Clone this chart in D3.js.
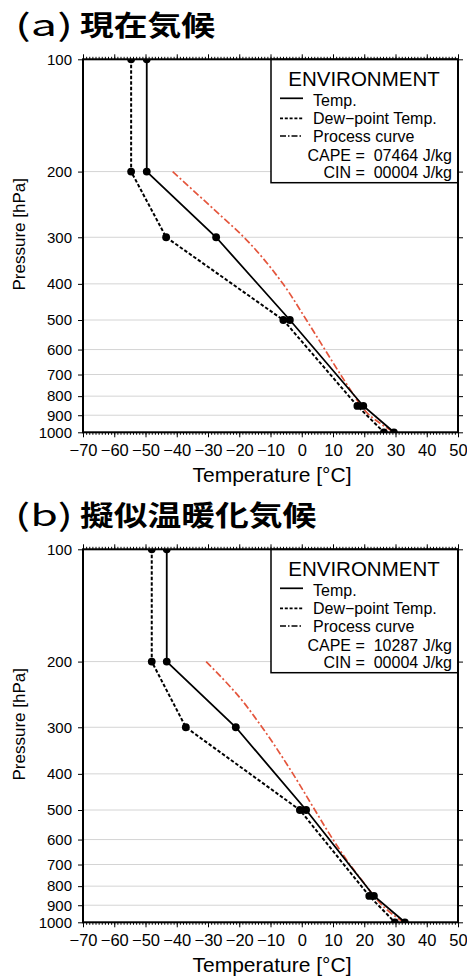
<!DOCTYPE html>
<html>
<head>
<meta charset="utf-8">
<script src="https://cdn.jsdelivr.net/npm/d3@7"></script>
<style>
  html, body { margin: 0; padding: 0; background: #fff; }
  svg { display: block; }
  text { font-family: "Liberation Sans", Arial, Helvetica, sans-serif; fill: #000; }
</style>
</head>
<body>
<svg id="chart" width="467" height="980"></svg>
<script>
// ---------------- data ----------------
const panelLetters = ["(a)", "(b)"];
const panelNames = ["現在気候", "擬似温暖化気候"];
const capeValues = ["07464", "10287"];
const cinValues = ["00004", "00004"];

const envPressure = [100, 200, 300, 500, 850, 1000];          // hPa
const tempA = [-49.6, -49.6, -27.4, -3.8, 19.7, 29.5];         // °C
const dewA  = [-54.6, -54.6, -43.4, -5.9, 17.8, 26.3];
const tempB = [-43.2, -43.2, -21.1, 1.4, 23.1, 33.0];
const dewB  = [-48.0, -48.0, -37.1, -0.6, 21.6, 29.8];

const procPressure = [200, 250, 300, 400, 500, 600, 700, 800, 850, 900, 950, 1000];
const procA = [-41.3, -28.7, -18.5, -6.0, 1.5, 7.4, 12.4, 16.9, 19.0, 21.7, 25.4, 29.5];
const procB = [-30.6, -19.8, -12.7, -2.8, 4.2, 10.0, 15.4, 20.7, 23.1, 25.7, 28.9, 32.7];

const xTickValues = [-70, -60, -50, -40, -30, -20, -10, 0, 10, 20, 30, 40, 50];
const pTickValues = [100, 200, 300, 400, 500, 600, 700, 800, 900, 1000];
const gridPressure = [200, 300, 400, 500, 600, 700, 800, 900];

const panels = [
  { temp: tempA, dew: dewA, proc: procA },
  { temp: tempB, dew: dewB, proc: procB }
];

// ---------------- layout ----------------
const svg = d3.select("#chart");
const left = 83, right = 458;
const plotH = 373;
const panelTop0 = 59.3, panelStep = 490;
const redColor = "#e4553c";

const x = d3.scaleLinear().domain([-70, 50]).range([left, right]);

panels.forEach((pd, i) => {
  const top = panelTop0 + i * panelStep;
  const bottom = top + plotH;
  const y = d3.scaleLog().domain([100, 1000]).range([top, bottom]);
  const g = svg.append("g");

  // title
  const tBase = 36 + i * panelStep;
  g.append("text").attr("x", 15).attr("y", tBase)
    .attr("textLength", 58).attr("lengthAdjust", "spacingAndGlyphs")
    .style("font-family", "'Noto Sans CJK JP', sans-serif")
    .style("font-weight", 400).style("font-size", "30px")
    .text(panelLetters[i]);
  g.append("text").attr("x", 80).attr("y", tBase)
    .attr("textLength", 135 * panelNames[i].length / 4).attr("lengthAdjust", "spacingAndGlyphs")
    .style("font-family", "'Noto Sans CJK JP', sans-serif")
    .style("font-weight", 700).style("font-size", "28px")
    .text(panelNames[i]);

  // clip
  const clipId = "clip" + i;
  svg.append("clipPath").attr("id", clipId)
    .append("rect").attr("x", left).attr("y", top).attr("width", right - left).attr("height", plotH);

  // grid
  g.append("g").selectAll("line").data(gridPressure).join("line")
    .attr("x1", left).attr("x2", right)
    .attr("y1", d => y(d)).attr("y2", d => y(d))
    .attr("stroke", "#d4d4d4").attr("stroke-width", 1);

  const plot = g.append("g").attr("clip-path", `url(#${clipId})`);

  const envLine = d3.line().x(d => x(d[0])).y(d => y(d[1]));
  const tempPts = pd.temp.map((t, k) => [t, envPressure[k]]);
  const dewPts = pd.dew.map((t, k) => [t, envPressure[k]]);
  const procPts = pd.proc.map((t, k) => [t, procPressure[k]]);

  plot.append("path").datum(procPts)
    .attr("d", d3.line().x(d => x(d[0])).y(d => y(d[1])).curve(d3.curveMonotoneY))
    .attr("fill", "none").attr("stroke", redColor).attr("stroke-width", 1.7)
    .attr("stroke-dasharray", "7,2.5,2,2.5");

  plot.append("path").datum(dewPts).attr("d", envLine)
    .attr("fill", "none").attr("stroke", "#000").attr("stroke-width", 2)
    .attr("stroke-dasharray", "3.5,2");

  plot.append("path").datum(tempPts).attr("d", envLine)
    .attr("fill", "none").attr("stroke", "#000").attr("stroke-width", 1.8);

  plot.append("g").selectAll("circle").data(dewPts.concat(tempPts)).join("circle")
    .attr("cx", d => x(d[0])).attr("cy", d => y(d[1])).attr("r", 3.9)
    .attr("fill", "#000");

  // legend
  const lg = g.append("g");
  lg.append("rect").attr("x", 271).attr("y", top).attr("width", right - 271).attr("height", 123.4)
    .attr("fill", "#fff").attr("stroke", "#000").attr("stroke-width", 1.5);
  lg.append("text").attr("x", 364).attr("y", top + 26.7).attr("text-anchor", "middle")
    .style("font-size", "20.5px").text("ENVIRONMENT");
  const rows = [
    { dash: null, label: "Temp.", ly: 39, ty: 46.4 },
    { dash: "3,1.8", label: "Dew\u2212point Temp.", ly: 59, ty: 64.7 },
    { dash: "6,2,1.5,2", label: "Process curve", ly: 76.7, ty: 82.4 }
  ];
  rows.forEach(r => {
    lg.append("line").attr("x1", 280).attr("x2", 303)
      .attr("y1", top + r.ly).attr("y2", top + r.ly)
      .attr("stroke", "#000").attr("stroke-width", 1.7)
      .attr("stroke-dasharray", r.dash);
    lg.append("text").attr("x", 313).attr("y", top + r.ty)
      .style("font-size", "16px").text(r.label);
  });
  lg.append("text").attr("x", 452).attr("y", top + 101.7).attr("text-anchor", "end")
    .attr("xml:space", "preserve").style("white-space", "pre")
    .style("font-size", "16px").text("CAPE =  " + capeValues[i] + " J/kg");
  lg.append("text").attr("x", 452).attr("y", top + 119).attr("text-anchor", "end")
    .attr("xml:space", "preserve").style("white-space", "pre")
    .style("font-size", "16px").text("CIN =  " + cinValues[i] + " J/kg");

  // frame
  g.append("rect").attr("x", left).attr("y", top).attr("width", right - left).attr("height", plotH)
    .attr("fill", "none").attr("stroke", "#000").attr("stroke-width", 2);

  // axes
  const minor = d3.range(-70, 51, 1);
  const axB = g.append("g").attr("transform", `translate(0,${bottom})`)
    .call(d3.axisBottom(x).tickValues(minor).tickSize(2.5).tickFormat(""));
  const axB2 = g.append("g").attr("transform", `translate(0,${bottom})`)
    .call(d3.axisBottom(x).tickValues(xTickValues).tickSize(5).tickPadding(7).tickFormat(d3.format("d")));
  const axT = g.append("g").attr("transform", `translate(0,${top})`)
    .call(d3.axisTop(x).tickValues(minor).tickSize(2.5).tickFormat(""));
  const axT2 = g.append("g").attr("transform", `translate(0,${top})`)
    .call(d3.axisTop(x).tickValues(xTickValues).tickSize(5).tickFormat(""));
  const axL = g.append("g").attr("transform", `translate(${left},0)`)
    .call(d3.axisLeft(y).tickValues(pTickValues).tickSize(5).tickPadding(6).tickFormat(d3.format("d")));
  const axR = g.append("g").attr("transform", `translate(${right},0)`)
    .call(d3.axisRight(y).tickValues(pTickValues).tickSize(5).tickFormat(""));

  [axB, axB2, axT, axT2, axL, axR].forEach(a => {
    a.select(".domain").remove();
    a.selectAll(".tick line").attr("stroke", "#000").attr("stroke-width", 1);
    a.selectAll("text").attr("fill", "#000")
      .style("font-family", "'Liberation Sans', Arial, sans-serif");
  });
  axB2.selectAll("text").style("font-size", "16.5px");
  axL.selectAll("text").style("font-size", "15px");

  // axis titles
  g.append("text").attr("x", 272).attr("y", bottom + 50).attr("text-anchor", "middle")
    .style("font-size", "21px").text("Temperature [°C]");
  g.append("text").attr("transform", `translate(25,${top + 175}) rotate(-90)`)
    .attr("text-anchor", "middle").style("font-size", "17px").text("Pressure [hPa]");
});
</script>
</body>
</html>
